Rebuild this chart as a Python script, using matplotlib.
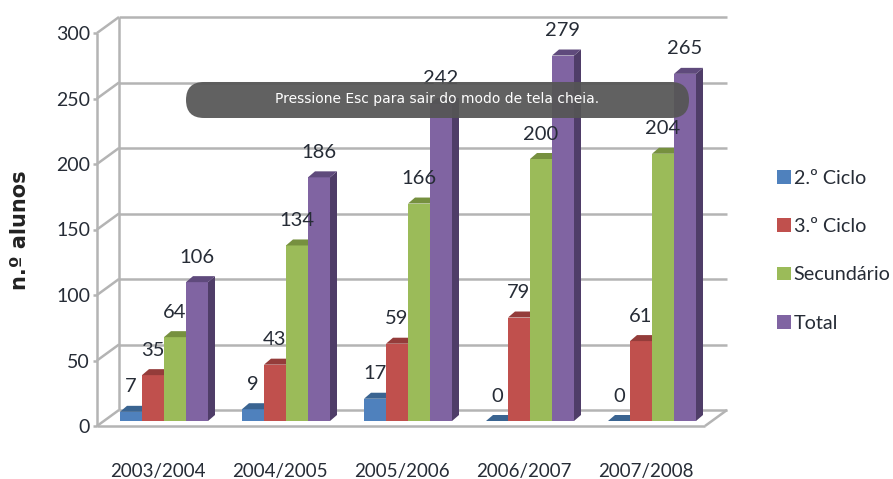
import matplotlib
matplotlib.use("Agg")
import matplotlib.pyplot as plt
from matplotlib.patches import Polygon, FancyBboxPatch, Patch
from matplotlib.transforms import IdentityTransform

years = ["2003/2004", "2004/2005", "2005/2006", "2006/2007", "2007/2008"]
ciclo2 = [7, 9, 17, 0, 0]
ciclo3 = [35, 43, 59, 79, 61]
secundario = [64, 134, 166, 200, 204]
total = [106, 186, 242, 279, 265]
series_names = ["2.º Ciclo", "3.º Ciclo", "Secundário", "Total"]
series_values = [ciclo2, ciclo3, secundario, total]
yticks = [0, 50, 100, 150, 200, 250, 300]

W, H = 893, 479
front = ["#4f81bd", "#c0504d", "#9bbb59", "#8064a2"]
top_c = ["#3a6491", "#943c3a", "#76903f", "#5f4a7c"]
side_c = ["#2f5278", "#7a302e", "#5f7533", "#4f3d68"]
GRID = "#b4b4b4"
FONT = "Lato"
TXT = "#262c36"

fig = plt.figure(figsize=(W / 100, H / 100), dpi=100)
L, R, T, B = 97, 705, 33, 426
ax = fig.add_axes([L / W, 1 - B / H, (R - L) / W, (B - T) / H])
step = 122
center0 = 164
ax.set_xlim((L - center0) / step, (R - center0) / step)
ax.set_ylim(0, 300)
for s in ax.spines.values():
    s.set_visible(False)
ax.patch.set_alpha(0)

ppv = (B - T) / 300
wall_dx, wall_dy = 22 / step, 16 / ppv
x0, x1 = ax.get_xlim()
kw = dict(color=GRID, lw=1.8, clip_on=False, solid_capstyle="butt")
for v in yticks:
    ax.plot([x0 + wall_dx, x1 + wall_dx], [v + wall_dy] * 2, zorder=1, **kw)
    ax.plot([x0, x0 + wall_dx], [v, v + wall_dy], zorder=1, **kw)
ax.plot([x0 + wall_dx] * 2, [wall_dy, 300 + wall_dy], zorder=1, **kw)
ax.plot([x0, x0], [0, 300], zorder=1, **kw)
ax.plot([x0, x1], [0, 0], zorder=2, **kw)
ax.plot([x1, x1 + wall_dx], [0, wall_dy], zorder=2, **kw)

w = 22 / step
base = 5 / ppv
dep_x, dep_y = 7 / step, 6 / ppv
for g in range(len(years)):
    for k, vals in enumerate(series_values):
        v = vals[g]
        left = g + (k - 2) * w
        z = 3 + g + k * 0.1
        ax.bar(left, v, w, bottom=base, align="edge", color=front[k], zorder=z, clip_on=False)
        ax.add_patch(Polygon([(left, base + v), (left + dep_x, base + v + dep_y),
                              (left + w + dep_x, base + v + dep_y), (left + w, base + v)],
                             facecolor=top_c[k], zorder=z, clip_on=False))
        ax.add_patch(Polygon([(left + w, base), (left + w + dep_x, base + dep_y),
                              (left + w + dep_x, base + v + dep_y), (left + w, base + v)],
                             facecolor=side_c[k], zorder=z - 0.05, clip_on=False))
        ax.annotate(str(v), (left + w / 2, base + v), xytext=(0, 25),
                    textcoords="offset pixels", ha="center", va="center",
                    fontsize=14.5, family=FONT, color=TXT, zorder=30,
                    annotation_clip=False)

ax.set_xticks([g - 6 / step for g in range(len(years))])
ax.set_xticklabels(years, fontsize=13.5, family=FONT, color=TXT)
ax.tick_params(axis="x", length=0, pad=27)
ax.set_yticks(yticks)
ax.set_yticklabels([str(v) for v in yticks], fontsize=14, family=FONT, color=TXT)
ax.tick_params(axis="y", length=3, width=1.8, color=GRID, pad=2)
ax.set_ylabel("n.º alunos", fontsize=15, fontweight="bold", family="DejaVu Sans",
              color="#222222", va="center")
ax.yaxis.set_label_coords((20 - L) / (R - L), (B - 230) / (B - T))

handles = [Patch(facecolor=c, label=n) for c, n in zip(front, series_names)]
leg = fig.legend(handles=handles, loc="upper left",
                 bbox_to_anchor=(759 / W, 1 - 152 / H),
                 bbox_transform=fig.transFigure, frameon=False, handlelength=0.7,
                 handleheight=0.7, handletextpad=0.15, labelspacing=1.59,
                 prop={"family": FONT, "size": 14.2}, labelcolor=TXT)

# Full-screen notice laid over the chart
pill = FancyBboxPatch((204, H - 118 + 18), 467, 0.01,
                      boxstyle="round,pad=18,rounding_size=18",
                      transform=IdentityTransform(), facecolor="#555555",
                      edgecolor="none", alpha=0.93, zorder=40)
fig.add_artist(pill)
fig.text(437 / W, 1 - 99 / H, "Pressione Esc para sair do modo de tela cheia.",
         ha="center", va="center", color="white", fontsize=10,
         family="DejaVu Sans", zorder=41)

fig.savefig("out.png", dpi=100)
